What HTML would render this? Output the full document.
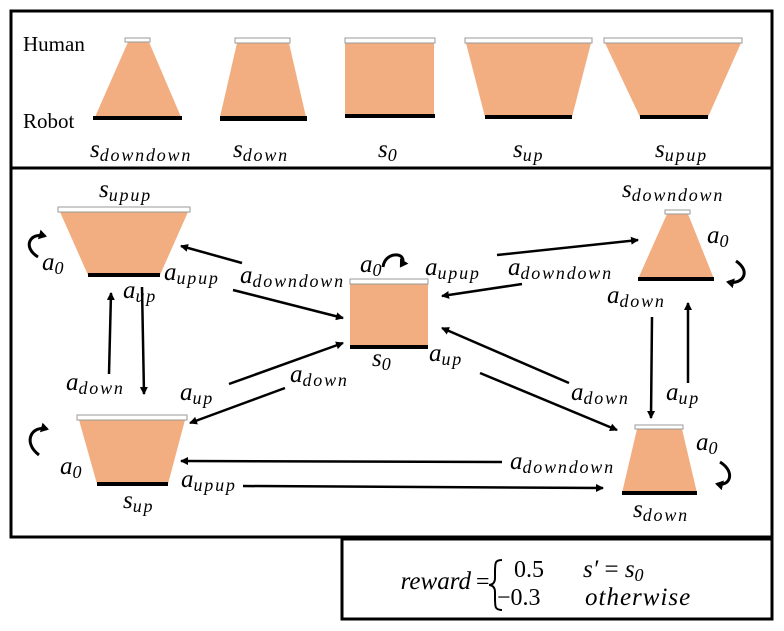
<!DOCTYPE html><html><head><style>body{margin:0;background:#fff}svg{display:block}text{font-family:"Liberation Serif",serif}</style></head><body>
<svg width="784" height="631" viewBox="0 0 784 631" xmlns="http://www.w3.org/2000/svg">
<defs><marker id="a" markerWidth="8" markerHeight="8" refX="7" refY="4" orient="auto" markerUnits="userSpaceOnUse"><path d="M0,0 L8,4 L0,8 z" fill="#000"/></marker>
<marker id="b" markerWidth="10" markerHeight="10" refX="6" refY="5" orient="auto" markerUnits="userSpaceOnUse"><path d="M0,0 L8,5 L0,10 z" fill="#000"/></marker></defs>
<g fill="none" stroke="#000" stroke-width="3">
<rect x="11" y="11" width="761" height="157"/>
<rect x="11" y="168" width="761" height="369"/>
<rect x="342" y="539" width="430" height="80"/>
</g>
<g font-size="21"><text x="23" y="51">Human</text><text x="23" y="128">Robot</text></g>
<g fill="#f2ae80">
<polygon points="128,42 149,42 181,117 95,117"/>
<polygon points="237,43 289,43 306,117 220,117"/>
<polygon points="345,43 434,43 434,116 345,116"/>
<polygon points="466,43 591,43 572,117 485,117"/>
<polygon points="605,43 741,43 708,117 640,117"/>
<polygon points="60,212 188,212 160,275 88,275"/>
<polygon points="350,284 428,284 428,347 350,347"/>
<polygon points="667,214 688,214 714,279 638,279"/>
<polygon points="79,420 185,420 168,484 97,484"/>
<polygon points="637,429 682,429 697,493 622,493"/>
</g>
<g fill="#fff" stroke="#999" stroke-width="1">
<rect x="125" y="38" width="25" height="4"/><rect x="235" y="38" width="55" height="5"/><rect x="345" y="38" width="90" height="5"/><rect x="465" y="38" width="127" height="5"/><rect x="604" y="38" width="138" height="5"/>
<rect x="58" y="207" width="132" height="5"/><rect x="350" y="279" width="78" height="5"/><rect x="665" y="210" width="25" height="4"/><rect x="77" y="415" width="110" height="5"/><rect x="635" y="425" width="48" height="4"/>
</g>
<g fill="#000">
<rect x="93" y="116" width="89" height="4"/><rect x="220" y="116" width="87" height="5"/><rect x="345" y="114" width="90" height="4"/><rect x="485" y="115" width="87" height="4"/><rect x="640" y="115" width="68" height="4"/>
<rect x="88" y="273" width="72" height="4"/><rect x="350" y="345" width="78" height="4"/><rect x="638" y="277" width="76" height="4"/><rect x="97" y="482" width="71" height="4"/><rect x="622" y="491" width="75" height="4"/>
</g>
<g stroke="#000" stroke-width="2.5" marker-end="url(#a)" fill="none">
<line x1="242" y1="263" x2="181" y2="246"/>
<line x1="233" y1="290" x2="343" y2="318"/>
<line x1="497" y1="255" x2="638" y2="240"/>
<line x1="522" y1="284" x2="442" y2="296"/>
<line x1="480" y1="373" x2="617" y2="430"/>
<line x1="569" y1="383" x2="442" y2="328"/>
<line x1="652" y1="317" x2="651" y2="418"/>
<line x1="688" y1="383" x2="688" y2="303"/>
<line x1="142" y1="287" x2="144" y2="394"/>
<line x1="109" y1="374" x2="111" y2="293"/>
<line x1="229" y1="384" x2="343" y2="343"/>
<line x1="285" y1="388" x2="190" y2="423"/>
<line x1="502" y1="462" x2="181" y2="461"/>
<line x1="243" y1="486" x2="603" y2="488"/>
</g>
<g stroke="#000" stroke-width="3" fill="none" marker-end="url(#b)">
<path d="M38,257 C22,247 30,232 45,236"/>
<path d="M383,267 C385,250 410,252 401,266"/>
<path d="M736,261 C752,272 742,285 728,282"/>
<path d="M39,455 C22,442 32,425 47,429"/>
<path d="M720,462 C736,472 730,487 717,484"/>
</g>
<g font-size="25" font-style="italic" font-family="Liberation Serif,serif">
<text x="90" y="157">s<tspan font-size="18" letter-spacing="1.8" dy="4">downdown</tspan></text>
<text x="233" y="157">s<tspan font-size="18" letter-spacing="1.8" dy="4">down</tspan></text>
<text x="378" y="157">s<tspan font-size="18" dy="4">0</tspan></text>
<text x="513" y="157">s<tspan font-size="18" letter-spacing="1.8" dy="4">up</tspan></text>
<text x="655" y="157">s<tspan font-size="18" letter-spacing="1.8" dy="4">upup</tspan></text>
<text x="99" y="197">s<tspan font-size="18" letter-spacing="1.8" dy="4">upup</tspan></text>
<text x="622" y="197">s<tspan font-size="18" letter-spacing="1.8" dy="4">downdown</tspan></text>
<text x="372" y="366">s<tspan font-size="18" dy="4">0</tspan></text>
<text x="123" y="508">s<tspan font-size="18" letter-spacing="1.8" dy="4">up</tspan></text>
<text x="633" y="517">s<tspan font-size="18" letter-spacing="1.8" dy="4">down</tspan></text>
<text x="42" y="270">a<tspan font-size="18" dy="4">0</tspan></text>
<text x="164" y="280">a<tspan font-size="18" letter-spacing="1.8" dy="4">upup</tspan></text>
<text x="240" y="283">a<tspan font-size="18" letter-spacing="1.8" dy="4">downdown</tspan></text>
<text x="123" y="298">a<tspan font-size="18" letter-spacing="1.8" dy="4">up</tspan></text>
<text x="360" y="272">a<tspan font-size="18" dy="4">0</tspan></text>
<text x="425" y="275">a<tspan font-size="18" letter-spacing="1.8" dy="4">upup</tspan></text>
<text x="508" y="275">a<tspan font-size="18" letter-spacing="1.8" dy="4">downdown</tspan></text>
<text x="707" y="243">a<tspan font-size="18" dy="4">0</tspan></text>
<text x="607" y="303">a<tspan font-size="18" letter-spacing="1.8" dy="4">down</tspan></text>
<text x="429" y="361">a<tspan font-size="18" letter-spacing="1.8" dy="4">up</tspan></text>
<text x="66" y="390">a<tspan font-size="18" letter-spacing="1.8" dy="4">down</tspan></text>
<text x="180" y="400">a<tspan font-size="18" letter-spacing="1.8" dy="4">up</tspan></text>
<text x="290" y="382">a<tspan font-size="18" letter-spacing="1.8" dy="4">down</tspan></text>
<text x="571" y="400">a<tspan font-size="18" letter-spacing="1.8" dy="4">down</tspan></text>
<text x="666" y="400">a<tspan font-size="18" letter-spacing="1.8" dy="4">up</tspan></text>
<text x="60" y="474">a<tspan font-size="18" dy="4">0</tspan></text>
<text x="181" y="487">a<tspan font-size="18" letter-spacing="1.8" dy="4">upup</tspan></text>
<text x="510" y="469">a<tspan font-size="18" letter-spacing="1.8" dy="4">downdown</tspan></text>
<text x="696" y="450">a<tspan font-size="18" dy="4">0</tspan></text>
<text x="471" y="589" text-anchor="end">reward</text>
<text x="583" y="577">s′ <tspan font-style="normal">=</tspan> s<tspan font-size="18" dy="4">0</tspan></text>
<text x="585" y="605" letter-spacing="1">otherwise</text>
</g>
<g font-size="24"><text x="476" y="589">=</text><text x="514" y="577">0.5</text><text x="497" y="605">−0.3</text></g>
<path d="M502,560 C495,560 495,563 495,572 L495,578 C495,583 492,585 489,585 C492,585 495,587 495,592 L495,598 C495,607 495,610 502,610" fill="none" stroke="#000" stroke-width="2"/>
</svg></body></html>
